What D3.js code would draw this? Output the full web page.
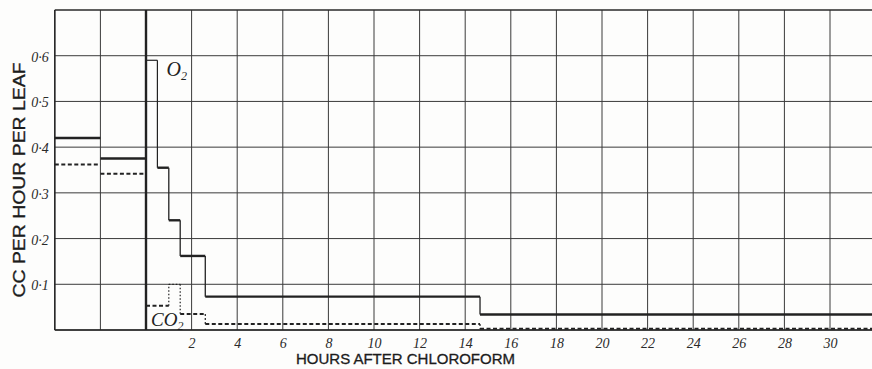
<!DOCTYPE html>
<html>
<head>
<meta charset="utf-8">
<script src="https://cdn.jsdelivr.net/npm/d3@7"></script>
<style>
  html, body { margin: 0; padding: 0; background: #fdfdfc; }
  svg { display: block; }
</style>
</head>
<body>
<svg id="chart" width="872" height="369"></svg>
<script>
// Hours after chloroform: tick labels along the bottom
const hourTicks = [2, 4, 6, 8, 10, 12, 14, 16, 18, 20, 22, 24, 26, 28, 30];
// Rate gridlines (cc per hour per leaf)
const rateTicks = [0.1, 0.2, 0.3, 0.4, 0.5, 0.6];

// Oxygen output: each period runs from start to end (hours) at a constant rate
const o2Start = [-4, -2, 0,    0.5,   1.0,  1.5,   2.6,   14.65];
const o2End   = [-2,  0, 0.5,  1.0,   1.5,  2.6,   14.65, 32];
const o2Rate  = [0.42, 0.375, 0.59, 0.355, 0.24, 0.162, 0.073, 0.034];

// Carbon dioxide output
const co2Start = [-4, -2, 0,     1.0,  1.5,   2.6,   14.65];
const co2End   = [-2,  0, 1.0,   1.5,  2.6,   14.65, 32];
const co2Rate  = [0.362, 0.342, 0.053, 0.10, 0.035, 0.013, 0.003];

const svg = d3.select("#chart");
const ink = "#222";

const x = d3.scaleLinear().domain([-4, 32]).range([54.8, 875.6]);
const y = d3.scaleLinear().domain([0, 0.7]).range([330, 10]);

// Grid
const grid = svg.append("g").attr("stroke", "#3a3a3a").attr("stroke-width", 1).attr("fill", "none");
grid.selectAll("line.v").data(d3.range(-4, 33, 2)).join("line")
  .attr("class", "v")
  .attr("x1", d => x(d)).attr("x2", d => x(d))
  .attr("y1", y(0.7)).attr("y2", y(0));
grid.selectAll("line.h").data(d3.range(0, 8).map(i => i / 10)).join("line")
  .attr("class", "h")
  .attr("x1", x(-4)).attr("x2", x(32))
  .attr("y1", d => y(d)).attr("y2", d => y(d));

// Baseline and the moment of chloroforming
svg.append("line").attr("x1", x(-4)).attr("x2", x(32)).attr("y1", y(0)).attr("y2", y(0))
  .attr("stroke", ink).attr("stroke-width", 1.6);
svg.append("line").attr("x1", x(0)).attr("x2", x(0)).attr("y1", y(0.7)).attr("y2", y(0))
  .attr("stroke", ink).attr("stroke-width", 2.4);

// Build horizontal treads and vertical risers of a step series
function steps(starts, ends, rates) {
  const treads = starts.map((s, i) => ({ i, x1: s, x2: ends[i], y1: rates[i], y2: rates[i] }));
  const risers = [];
  for (let i = 1; i < starts.length; i++) {
    if (starts[i] > 0) risers.push({ i, x1: starts[i], x2: starts[i], y1: rates[i - 1], y2: rates[i] });
  }
  return treads.concat(risers);
}

function drawSegs(segs, cls, styleFn) {
  svg.append("g").attr("fill", "none").selectAll("line." + cls).data(segs).join("line")
    .attr("class", cls)
    .attr("x1", d => x(d.x1)).attr("x2", d => x(d.x2))
    .attr("y1", d => y(d.y1)).attr("y2", d => y(d.y2))
    .attr("stroke", ink)
    .each(function (d) { styleFn(d3.select(this), d); });
}

// CO2: dashed, with a dotted excursion
drawSegs(steps(co2Start, co2End, co2Rate), "co2", (sel, d) => {
  const dotted = (d.x1 === 1.0 && d.x2 === 1.0) || (d.x1 === 1.0 && d.x2 === 1.5) || (d.x1 === 1.5 && d.x2 === 1.5);
  if (dotted) sel.attr("stroke-width", 1.2).attr("stroke-dasharray", "1.5,2");
  else sel.attr("stroke-width", d.x1 === d.x2 ? 1.2 : 2).attr("stroke-dasharray", d.x1 === d.x2 ? "2,2" : "4,2.5");
});

// O2: solid, first post-chloroform period in a fine line
drawSegs(steps(o2Start, o2End, o2Rate), "o2", (sel, d) => {
  const fine = (d.x1 === 0 && d.x2 === 0.5) || (d.x1 === 0.5 && d.x2 === 0.5);
  sel.attr("stroke-width", fine ? 1.2 : (d.x1 === d.x2 ? 1.3 : 2.4));
});

// Left and top frame
svg.append("line").attr("x1", x(-4)).attr("x2", x(-4)).attr("y1", y(0.7)).attr("y2", y(0))
  .attr("stroke", ink).attr("stroke-width", 1.4);
svg.append("line").attr("x1", x(-4)).attr("x2", x(32)).attr("y1", y(0.7)).attr("y2", y(0.7))
  .attr("stroke", ink).attr("stroke-width", 1.2);

// Axes (labels only)
const fmt = d => d3.format(".1f")(d).replace(".", "·");
const yAxis = svg.append("g").attr("transform", `translate(${x(-4)},1)`)
  .call(d3.axisLeft(y).tickValues(rateTicks).tickSize(0).tickPadding(6).tickFormat(fmt));
const xAxis = svg.append("g").attr("transform", `translate(0,${y(0)})`)
  .call(d3.axisBottom(x).tickValues(hourTicks).tickSize(0).tickPadding(8).tickFormat(d3.format("d")));
[yAxis, xAxis].forEach(a => {
  a.select(".domain").remove();
  a.selectAll("text")
    .attr("fill", "#2a2a2a")
    .style("font-family", "'Liberation Serif', 'DejaVu Serif', serif")
    .style("font-style", "italic")
    .style("font-size", "14px");
});

// Axis titles
svg.append("text")
  .attr("transform", "translate(25,180) rotate(-90)")
  .attr("text-anchor", "middle")
  .attr("textLength", 235).attr("lengthAdjust", "spacingAndGlyphs")
  .attr("fill", "#1c1c1c")
  .style("font-family", "'Liberation Sans', Arial, sans-serif")
  .style("font-size", "17px")
  .style("stroke", "#1c1c1c").style("stroke-width", 0.35)
  .text("CC PER HOUR PER LEAF");

svg.append("text")
  .attr("x", 296).attr("y", 364)
  .attr("textLength", 219).attr("lengthAdjust", "spacingAndGlyphs")
  .attr("fill", "#1c1c1c")
  .style("font-family", "'Liberation Sans', Arial, sans-serif")
  .style("font-size", "14.5px")
  .style("stroke", "#1c1c1c").style("stroke-width", 0.3)
  .text("HOURS AFTER CHLOROFORM");

// Series names
function chem(xh, rate, base, dy, size) {
  const t = svg.append("text")
    .attr("x", x(xh)).attr("y", y(rate) + dy)
    .attr("fill", "#222")
    .style("font-family", "'Liberation Serif', 'DejaVu Serif', serif")
    .style("font-style", "italic")
    .style("font-size", size + "px");
  t.append("tspan").text(base);
  t.append("tspan").attr("dy", 4).style("font-size", Math.round(size * 0.62) + "px").text("2");
}
chem(0.9, 0.59, "O", 16, 20);
chem(0.22, 0.053, "CO", 20, 19);
</script>
</body>
</html>
